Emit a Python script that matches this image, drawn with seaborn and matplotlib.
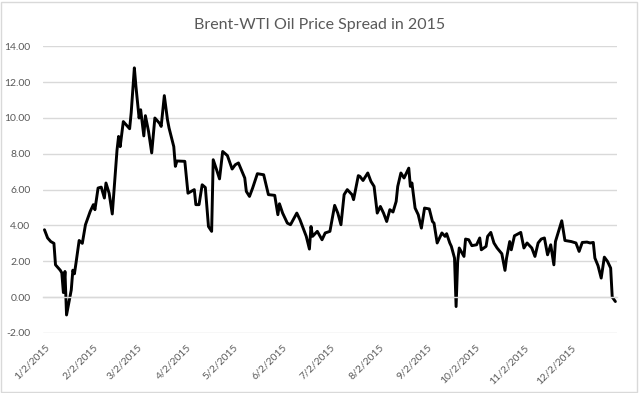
import pandas as pd
import matplotlib.pyplot as plt
import matplotlib.dates as mdates
import seaborn as sns
from matplotlib.ticker import FormatStrFormatter, MultipleLocator

# Fechas y diferencial Brent-WTI (USD/bbl)
dates = [
    "2015-01-02", "2015-01-04", "2015-01-06", "2015-01-08", "2015-01-09", "2015-01-12",
    "2015-01-13", "2015-01-14", "2015-01-15", "2015-01-16", "2015-01-19", "2015-01-20",
    "2015-01-21", "2015-01-22", "2015-01-24", "2015-01-26", "2015-01-28", "2015-01-31",
    "2015-02-02", "2015-02-03", "2015-02-05", "2015-02-07", "2015-02-09", "2015-02-10",
    "2015-02-12", "2015-02-14", "2015-02-17", "2015-02-18", "2015-02-19", "2015-02-21",
    "2015-02-23", "2015-02-25", "2015-02-26", "2015-02-28", "2015-03-01", "2015-03-03",
    "2015-03-04", "2015-03-06", "2015-03-07", "2015-03-09", "2015-03-11", "2015-03-13",
    "2015-03-16", "2015-03-17", "2015-03-19", "2015-03-21", "2015-03-22", "2015-03-25",
    "2015-03-26", "2015-03-27", "2015-04-01", "2015-04-03", "2015-04-07", "2015-04-08",
    "2015-04-10", "2015-04-12", "2015-04-14", "2015-04-16", "2015-04-18", "2015-04-19",
    "2015-04-21", "2015-04-23", "2015-04-25", "2015-04-28", "2015-05-01", "2015-05-03",
    "2015-05-05", "2015-05-09", "2015-05-10", "2015-05-12", "2015-05-14", "2015-05-17",
    "2015-05-21", "2015-05-24", "2015-05-28", "2015-05-30", "2015-05-31", "2015-06-02",
    "2015-06-05", "2015-06-07", "2015-06-11", "2015-06-13", "2015-06-17", "2015-06-19",
    "2015-06-20", "2015-06-21", "2015-06-24", "2015-06-27", "2015-06-29", "2015-07-02",
    "2015-07-05", "2015-07-07", "2015-07-09", "2015-07-11", "2015-07-13", "2015-07-16",
    "2015-07-17", "2015-07-20", "2015-07-21", "2015-07-23", "2015-07-26", "2015-07-28",
    "2015-07-30", "2015-08-01", "2015-08-03", "2015-08-05", "2015-08-07", "2015-08-09",
    "2015-08-11", "2015-08-13", "2015-08-14", "2015-08-16", "2015-08-18", "2015-08-19",
    "2015-08-21", "2015-08-22", "2015-08-23", "2015-08-25", "2015-08-27", "2015-08-29",
    "2015-08-31", "2015-09-03", "2015-09-05", "2015-09-06", "2015-09-08", "2015-09-11",
    "2015-09-13", "2015-09-14", "2015-09-16", "2015-09-17", "2015-09-19", "2015-09-20",
    "2015-09-21", "2015-09-22", "2015-09-25", "2015-09-26", "2015-09-28", "2015-09-30",
    "2015-10-03", "2015-10-05", "2015-10-06", "2015-10-09", "2015-10-10", "2015-10-12",
    "2015-10-14", "2015-10-16", "2015-10-19", "2015-10-21", "2015-10-22", "2015-10-24",
    "2015-10-25", "2015-10-27", "2015-10-31", "2015-11-02", "2015-11-04", "2015-11-07",
    "2015-11-09", "2015-11-11", "2015-11-13", "2015-11-15", "2015-11-17", "2015-11-19",
    "2015-11-21", "2015-11-22", "2015-11-24", "2015-11-26", "2015-11-28", "2015-12-02",
    "2015-12-05", "2015-12-07", "2015-12-09", "2015-12-12", "2015-12-14", "2015-12-16",
    "2015-12-17", "2015-12-19", "2015-12-21", "2015-12-23", "2015-12-25", "2015-12-27",
    "2015-12-28", "2015-12-30",
]
spread = [
    3.76, 3.30, 3.10, 3.00, 1.80, 1.50,
    1.35, 0.25, 1.43, -1.00, 0.40, 1.50,
    1.30, 1.90, 3.16, 3.00, 4.04, 4.78,
    5.16, 4.88, 6.09, 6.14, 5.53, 6.37,
    5.80, 4.64, 8.20, 8.97, 8.40, 9.80,
    9.60, 9.40, 10.30, 12.80, 11.77, 10.00,
    10.46, 9.00, 10.13, 9.25, 8.05, 10.00,
    9.70, 9.53, 11.25, 9.90, 9.44, 8.40,
    7.30, 7.60, 7.58, 5.80, 6.00, 5.16,
    5.16, 6.27, 6.12, 3.94, 3.67, 7.67,
    7.15, 6.60, 8.13, 7.90, 7.15, 7.39,
    7.49, 6.65, 5.90, 5.62, 6.09, 6.89,
    6.83, 5.72, 5.68, 4.60, 5.21, 4.69,
    4.13, 4.04, 4.69, 4.32, 3.39, 2.68,
    3.94, 3.39, 3.67, 3.20, 3.58, 3.67,
    5.12, 4.69, 4.04, 5.72, 6.00, 5.72,
    5.44, 6.78, 6.74, 6.51, 6.93, 6.46,
    6.18, 4.69, 5.06, 4.69, 4.22, 4.88,
    4.75, 5.34, 6.18, 6.93, 6.65, 6.83,
    7.20, 6.18, 6.37, 4.97, 4.60, 3.85,
    4.97, 4.92, 4.22, 4.13, 3.02, 3.58,
    3.39, 3.54, 3.02, 2.83, 2.18, -0.53,
    1.99, 2.74, 2.27, 3.24, 3.20, 2.87,
    2.92, 3.30, 2.64, 2.83, 3.39, 3.61,
    3.02, 2.74, 2.42, 1.49, 2.18, 3.10,
    2.64, 3.42, 3.61, 2.74, 3.02, 2.74,
    2.27, 3.02, 3.24, 3.30, 2.36, 2.92,
    1.80, 3.10, 3.67, 4.26, 3.16, 3.10,
    3.02, 2.55, 3.05, 3.07, 3.02, 3.05,
    2.18, 1.75, 1.06, 2.23, 1.99, 1.62,
    0.00, -0.25,
]

TITLE = "Brent-WTI Oil Price Spread in 2015"
GREY_TEXT = "#595959"
GRID = "#d9d9d9"

sns.set_style("white")
plt.rcParams["font.family"] = ["Lato", "DejaVu Sans"]

df = pd.DataFrame({"fecha": pd.to_datetime(dates), "spread": spread})

fig = plt.figure(figsize=(6.4, 3.93), dpi=100)
ax = fig.add_axes([0.067, 0.153, 0.897, 0.729])

sns.lineplot(data=df, x="fecha", y="spread", color="black", linewidth=2.1, ax=ax)

# eje Y
ax.set_ylim(-2, 14)
ax.yaxis.set_major_locator(MultipleLocator(2))
ax.yaxis.set_major_formatter(FormatStrFormatter("%.2f"))
ax.grid(axis="y", color=GRID, linewidth=1.0)
ax.set_axisbelow(True)

# eje X: fechas el dia 2 de cada mes, eje cruzando en 0
ax.set_xlim(pd.Timestamp("2015-01-01"), pd.Timestamp("2015-12-31"))
ax.xaxis.set_major_locator(mdates.MonthLocator(bymonthday=2))
ax.xaxis.set_major_formatter(mdates.DateFormatter("%-m/%-d/%Y"))

for side in ["top", "right", "left"]:
    ax.spines[side].set_visible(False)
ax.spines["bottom"].set_position(("data", 0))
ax.spines["bottom"].set_color(GRID)
ax.spines["bottom"].set_linewidth(1.0)

ax.tick_params(axis="x", direction="out", length=5, width=1, color=GRID,
               labelsize=7.5, labelcolor=GREY_TEXT, pad=28)
ax.tick_params(axis="y", length=0, labelsize=7.5, labelcolor=GREY_TEXT, pad=9)
for lbl in ax.get_xticklabels():
    lbl.set_rotation(45)
    lbl.set_ha("right")
    lbl.set_rotation_mode("anchor")

ax.set_xlabel("")
ax.set_ylabel("")
fig.suptitle(TITLE, x=0.5, y=0.955, fontsize=11.5, color=GREY_TEXT)

# marco del area del grafico
fig.patches.append(plt.Rectangle((0.002, 0.002), 0.994, 0.994, transform=fig.transFigure,
                                 fill=False, edgecolor=GRID, linewidth=1.0))

fig.savefig("out.png", dpi=100)
